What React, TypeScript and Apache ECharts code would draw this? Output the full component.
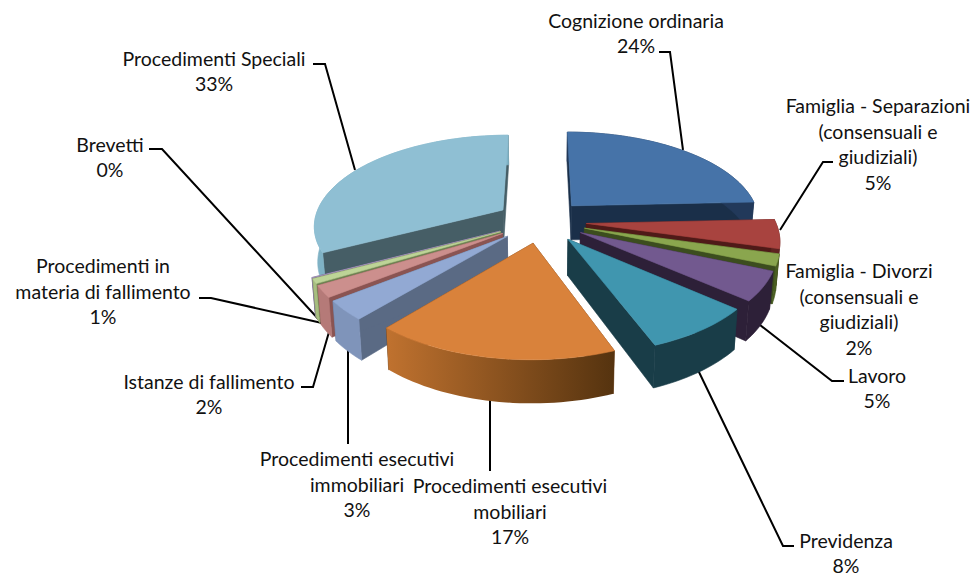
import React, { useEffect, useRef } from "react";
import * as echarts from "echarts";

const sliceNames = [
  "Cognizione ordinaria",
  "Famiglia - Separazioni\n(consensuali e\ngiudiziali)",
  "Famiglia - Divorzi\n(consensuali e\ngiudiziali)",
  "Lavoro",
  "Previdenza",
  "Procedimenti esecutivi\nmobiliari",
  "Procedimenti esecutivi\nimmobiliari",
  "Istanze di fallimento",
  "Procedimenti in\nmateria di fallimento",
  "Brevetti",
  "Procedimenti Speciali",
];
const sliceValues = [24.3, 5.0, 2.0, 5.0, 7.9, 17.0, 3.3, 2.0, 0.8, 0.1, 32.6];
const topColors = ["#4673A8", "#A8433F", "#8AA64E", "#72598F", "#4096AF", "#D9823B", "#92A9D3", "#CC8F8D", "#BDD497", "#A898C0", "#8FBFD3"];
const cutColors = ["#1A2F49", "#4F1A18", "#3C4D1E", "#2D2038", "#193D48", "#6B3F1A", "#5A6A84", "#8A5452", "#6F8252", "#5A4C6E", "#465E66"];
const rimColors = ["#22395A", "#5E2320", "#4A5E22", "#2D2038", "#193D48", "#C0722F", "#7F94BA", "#B57A78", "#A7BE80", "#8D7EA5", "#7FB2C5"];
const rimEndColor = "#55330F";

const CX = 541, CY = 221, RX = 189, RY = 90, PERSP = 0.16, EXPLODE = 0.24, DEPTH = 35, FONT = "Lato";

const total = sliceValues.reduce((a, b) => a + b, 0);
const starts: number[] = [];
sliceValues.reduce((acc, v) => { starts.push(acc); return acc + v; }, 0);
const toAngle = (v: number) => (v / total) * Math.PI * 2;

const project = (u: number, v: number, low: boolean): [number, number] => {
  const w = 1 + PERSP * v;
  const xs = (RX * u) / w;
  const ys = (RY * v) / w;
  return low ? [CX + xs * 0.985, CY - ys + DEPTH / w] : [CX + xs, CY - ys];
};

const renderSlice = (_: any, api: any) => {
  const i = api.value(0);
  const a0 = toAngle(starts[i]);
  const a1 = toAngle(starts[i] + sliceValues[i]);
  const mid = (a0 + a1) / 2;
  const ox = EXPLODE * Math.sin(mid);
  const oy = EXPLODE * Math.cos(mid);
  const steps = Math.max(2, Math.ceil((a1 - a0) / 0.03));
  const arc: [number, number][] = [];
  for (let k = 0; k <= steps; k++) {
    const a = a0 + ((a1 - a0) * k) / steps;
    arc.push([ox + Math.sin(a), oy + Math.cos(a)]);
  }
  const hi = arc.map((p) => project(p[0], p[1], false));
  const lo = arc.map((p) => project(p[0], p[1], true));
  const apexHi = project(ox, oy, false);
  const apexLo = project(ox, oy, true);
  const poly = (points: number[][], fill: any) => ({
    type: "polygon",
    shape: { points },
    style: { fill, stroke: typeof fill === "string" ? fill : undefined, lineWidth: typeof fill === "string" ? 0.6 : 0 },
  });
  const rimFill = i === 5
    ? new echarts.graphic.LinearGradient(0, 0, 1, 0, [
        { offset: 0, color: rimColors[i] },
        { offset: 1, color: rimEndColor },
      ])
    : rimColors[i];
  return {
    type: "group",
    children: [
      poly([apexHi, hi[0], lo[0], apexLo], cutColors[i]),
      poly([apexHi, hi[steps], lo[steps], apexLo], cutColors[i]),
      poly([...hi, ...lo.slice().reverse()], rimFill),
      poly([apexHi, ...hi], topColors[i]),
    ],
  };
};

// painted from the back of the pie to its front
const paintOrder = sliceValues
  .map((v, i) => i)
  .sort((a, b) => Math.cos(toAngle(starts[b] + sliceValues[b] / 2)) - Math.cos(toAngle(starts[a] + sliceValues[a] / 2)));

const labelAnchors = [
  [636, 33], [878, 144], [859, 309], [877, 388], [846, 553], [510, 511], [357, 484], [209, 394], [103, 291], [110, 157], [214, 71],
];
const leaders: (number[][] | null)[] = [
  [[659, 52], [670, 52], [683, 150]],
  [[833, 162], [823, 162], [780, 230]],
  null,
  [[844, 381], [832, 381], [760, 325]],
  [[794, 546], [783, 546], [698, 370]],
  [[490, 471], [490, 397]],
  [[348, 444], [348, 348]],
  [[301, 387], [313, 387], [329, 332]],
  [[199, 298], [211, 298], [322, 323]],
  [[149, 149], [162, 149], [322, 323]],
  [[313, 64], [325, 64], [355, 170]],
];

export default function App() {
  const ref = useRef<HTMLDivElement>(null);
  useEffect(() => {
    const chart = echarts.init(ref.current!, null, { renderer: "svg" });
    const graphics: any[] = [];
    leaders.forEach((points) => {
      if (points) {
        graphics.push({ type: "polyline", z: 1, shape: { points }, style: { stroke: "#000", lineWidth: 2, fill: "none" } });
      }
    });
    sliceNames.forEach((name, i) => {
      graphics.push({
        type: "text",
        z: 5,
        x: labelAnchors[i][0],
        y: labelAnchors[i][1],
        style: {
          text: `${name}\n${Math.round(sliceValues[i])}%`,
          fontFamily: FONT,
          fontSize: 19.5,
          lineHeight: 25.5,
          fill: "#111",
          align: "center",
          verticalAlign: "middle",
        },
      });
    });
    chart.setOption({
      animation: false,
      backgroundColor: "#fff",
      graphic: { elements: graphics },
      series: [
        {
          type: "custom",
          coordinateSystem: "none",
          silent: true,
          z: 3,
          renderItem: renderSlice,
          data: paintOrder.map((i) => [i]),
        },
      ],
    });
    return () => chart.dispose();
  }, []);
  return <div ref={ref} style={{ position: "fixed", left: 0, top: 0, width: 976, height: 576 }} />;
}
